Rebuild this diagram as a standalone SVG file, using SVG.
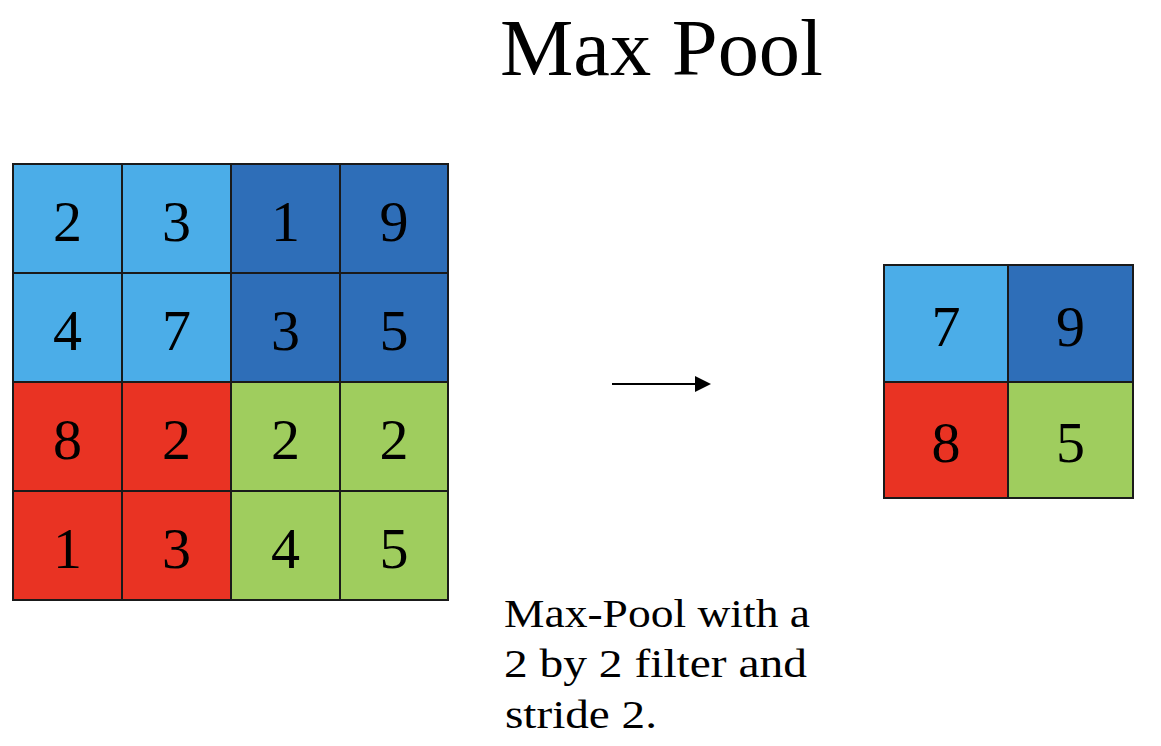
<svg xmlns="http://www.w3.org/2000/svg" width="1161" height="746" viewBox="0 0 1161 746">
  <style>
    .cell { stroke: #1a1a1a; stroke-width: 2; }
    .lb { fill: #4BADE8; }
    .db { fill: #2E6EB8; }
    .rd { fill: #E93323; }
    .gn { fill: #9FCD5E; }
    .num { font-family: "Liberation Serif", "DejaVu Serif", serif; font-size: 58px; fill: #000; text-anchor: middle; }
    .title { font-family: "Liberation Serif", "DejaVu Serif", serif; font-size: 80px; fill: #000; }
    .cap { font-family: "Liberation Serif", "DejaVu Serif", serif; font-size: 40px; fill: #000; }
  </style>
  <defs>
    <marker id="arrowhead" viewBox="0 0 16 16" refX="0" refY="8" markerWidth="16" markerHeight="16" markerUnits="userSpaceOnUse" orient="auto">
      <path d="M0,0 L16,8 L0,16 z" fill="#000"/>
    </marker>
  </defs>
  <rect x="0" y="0" width="1161" height="746" fill="#fff"/>

  <g id="title">
    <text class="title" x="500" y="75" textLength="323" lengthAdjust="spacingAndGlyphs">Max Pool</text>
  </g>

  <g id="input-grid">
    <g id="in-r1c1"><rect class="cell lb" x="13" y="164" width="109" height="109"/><text class="num" x="67.5" y="241">2</text></g>
    <g id="in-r1c2"><rect class="cell lb" x="122" y="164" width="109" height="109"/><text class="num" x="176.5" y="241">3</text></g>
    <g id="in-r1c3"><rect class="cell db" x="231" y="164" width="109" height="109"/><text class="num" x="285.5" y="241">1</text></g>
    <g id="in-r1c4"><rect class="cell db" x="340" y="164" width="108" height="109"/><text class="num" x="394" y="241">9</text></g>

    <g id="in-r2c1"><rect class="cell lb" x="13" y="273" width="109" height="109"/><text class="num" x="67.5" y="350">4</text></g>
    <g id="in-r2c2"><rect class="cell lb" x="122" y="273" width="109" height="109"/><text class="num" x="176.5" y="350">7</text></g>
    <g id="in-r2c3"><rect class="cell db" x="231" y="273" width="109" height="109"/><text class="num" x="285.5" y="350">3</text></g>
    <g id="in-r2c4"><rect class="cell db" x="340" y="273" width="108" height="109"/><text class="num" x="394" y="350">5</text></g>

    <g id="in-r3c1"><rect class="cell rd" x="13" y="382" width="109" height="109"/><text class="num" x="67.5" y="459">8</text></g>
    <g id="in-r3c2"><rect class="cell rd" x="122" y="382" width="109" height="109"/><text class="num" x="176.5" y="459">2</text></g>
    <g id="in-r3c3"><rect class="cell gn" x="231" y="382" width="109" height="109"/><text class="num" x="285.5" y="459">2</text></g>
    <g id="in-r3c4"><rect class="cell gn" x="340" y="382" width="108" height="109"/><text class="num" x="394" y="459">2</text></g>

    <g id="in-r4c1"><rect class="cell rd" x="13" y="491" width="109" height="109"/><text class="num" x="67.5" y="568">1</text></g>
    <g id="in-r4c2"><rect class="cell rd" x="122" y="491" width="109" height="109"/><text class="num" x="176.5" y="568">3</text></g>
    <g id="in-r4c3"><rect class="cell gn" x="231" y="491" width="109" height="109"/><text class="num" x="285.5" y="568">4</text></g>
    <g id="in-r4c4"><rect class="cell gn" x="340" y="491" width="108" height="109"/><text class="num" x="394" y="568">5</text></g>
  </g>

  <g id="connectors">
    <line x1="612" y1="384" x2="695" y2="384" stroke="#000" stroke-width="2" marker-end="url(#arrowhead)"/>
  </g>

  <g id="output-grid">
    <g id="out-r1c1"><rect class="cell lb" x="884" y="265" width="124" height="117"/><text class="num" x="946" y="346">7</text></g>
    <g id="out-r1c2"><rect class="cell db" x="1008" y="265" width="125" height="117"/><text class="num" x="1070.5" y="346">9</text></g>
    <g id="out-r2c1"><rect class="cell rd" x="884" y="382" width="124" height="116"/><text class="num" x="946" y="462">8</text></g>
    <g id="out-r2c2"><rect class="cell gn" x="1008" y="382" width="125" height="116"/><text class="num" x="1070.5" y="462">5</text></g>
  </g>

  <g id="caption">
    <text class="cap" x="504" y="627" textLength="306" lengthAdjust="spacingAndGlyphs">Max-Pool with a</text>
    <text class="cap" x="504" y="677" textLength="303" lengthAdjust="spacingAndGlyphs">2 by 2 filter and</text>
    <text class="cap" x="505" y="728" textLength="152" lengthAdjust="spacingAndGlyphs">stride 2.</text>
  </g>
</svg>
